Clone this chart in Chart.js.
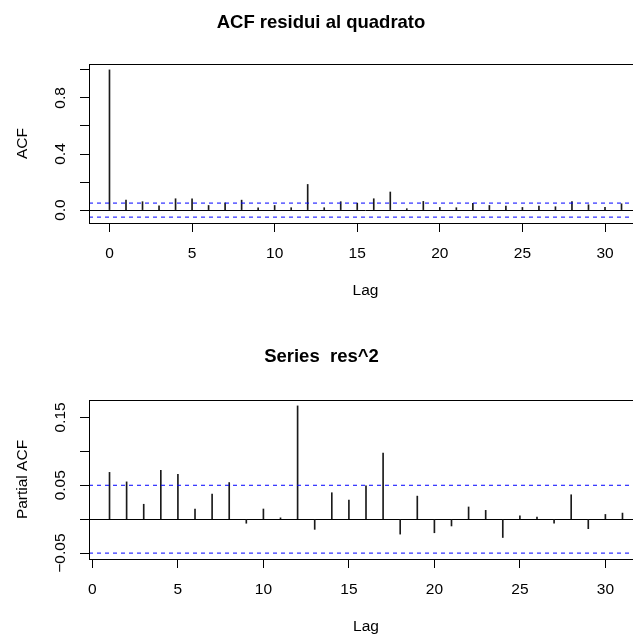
<!DOCTYPE html>
<html>
<head>
<meta charset="utf-8">
<script src="https://cdn.jsdelivr.net/npm/chart.js@4.4.1/dist/chart.umd.min.js"></script>
<style>
html, body { margin: 0; padding: 0; background: #fff; overflow: hidden; width: 633px; height: 639px; }
canvas { display: block; }
</style>
</head>
<body>
<canvas id="chart-acf" width="660" height="320" style="width:660px;height:320px"></canvas>
<canvas id="chart-pacf" width="660" height="319" style="width:660px;height:319px"></canvas>
<script>
// values
const acfLags = [0, 1, 2, 3, 4, 5, 6, 7, 8, 9, 10, 11, 12, 13, 14, 15,
    16, 17, 18, 19, 20, 21, 22, 23, 24, 25, 26, 27, 28, 29, 30, 31];
const acfValues = [1.0, 0.071, 0.06, 0.031, 0.081, 0.081, 0.033, 0.052, 0.071, 0.017, 0.033, 0.017,
    0.183, 0.017, 0.06, 0.05, 0.081, 0.129, 0.01, 0.062, 0.019, 0.017, 0.048, 0.033,
    0.029, 0.019, 0.029, 0.024, 0.06, 0.038, 0.019, 0.045];

const pacfLags = [1, 2, 3, 4, 5, 6, 7, 8, 9, 10, 11, 12, 13, 14, 15,
    16, 17, 18, 19, 20, 21, 22, 23, 24, 25, 26, 27, 28, 29, 30, 31];
const pacfValues = [0.069, 0.055, 0.022, 0.072, 0.066, 0.015, 0.037, 0.054, -0.006, 0.015, 0.002,
    0.167, -0.015, 0.039, 0.028, 0.049, 0.0975, -0.022, 0.034, -0.02, -0.01, 0.018,
    0.013, -0.027, 0.005, 0.003, -0.006, 0.036, -0.014, 0.007, 0.009];

const ciBound = 0.05;

const lagTicks = [0, 5, 10, 15, 20, 25, 30];
const acfYTicks = [0, 0.2, 0.4, 0.6, 0.8, 1.0];
const acfYLabelValues = [0, 0.4, 0.8];
const acfYLabelText = ['0.0', '0.4', '0.8'];
const pacfYTicks = [-0.05, 0, 0.05, 0.1, 0.15];
const pacfYLabelValues = [-0.05, 0.05, 0.15];
const pacfYLabelText = ['\u22120.05', '0.05', '0.15'];

const FAMILY = '"Liberation Sans", Arial, Helvetica, sans-serif';
const AXIS_SIZE = 15.5;

// R style frame: full box + rotated y tick labels
const rFrame = {
    id: 'rFrame',
    afterDraw(chart, args, opts) {
        const { ctx, chartArea: a, scales } = chart;
        ctx.save();
        ctx.strokeStyle = '#000';
        ctx.lineWidth = 1;
        ctx.strokeRect(Math.round(a.left) + 0.5, Math.round(a.top) + 0.5,
            Math.round(a.right - a.left), Math.round(a.bottom - a.top));
        ctx.fillStyle = '#000';
        ctx.font = AXIS_SIZE + 'px ' + FAMILY;
        ctx.textAlign = 'center';
        ctx.textBaseline = 'middle';
        opts.values.forEach((v, i) => {
            const y = scales.y.getPixelForValue(v);
            ctx.save();
            ctx.translate(opts.x, y);
            ctx.rotate(-Math.PI / 2);
            ctx.fillText(opts.labels[i], 0, 0);
            ctx.restore();
        });
        ctx.restore();
    },
};

function makePanel(id, p) {
    const ctx = document.getElementById(id).getContext('2d');
    return new Chart(ctx, {
        type: 'bar',
        data: {
            datasets: [
                {
                    type: 'bar',
                    data: p.lags.map((l, i) => ({ x: l, y: p.values[i] })),
                    backgroundColor: '#1a1a1a',
                    borderWidth: 0,
                    barThickness: 1,
                    order: 2,
                },
                {
                    type: 'line',
                    data: [{ x: p.xMin, y: ciBound }, { x: p.xMax, y: ciBound }],
                    borderColor: '#0000ff',
                    borderWidth: 1,
                    borderDash: [4, 4],
                    pointRadius: 0,
                    fill: false,
                    order: 1,
                },
                {
                    type: 'line',
                    data: [{ x: p.xMin, y: -ciBound }, { x: p.xMax, y: -ciBound }],
                    borderColor: '#0000ff',
                    borderWidth: 1,
                    borderDash: [4, 4],
                    pointRadius: 0,
                    fill: false,
                    order: 1,
                },
            ],
        },
        options: {
            responsive: false,
            animation: false,
            devicePixelRatio: 1,
            layout: { padding: { left: 0, right: p.padRight, top: 0, bottom: 0 } },
            plugins: {
                legend: { display: false },
                tooltip: { enabled: false },
                title: {
                    display: true,
                    text: p.title,
                    color: '#000',
                    font: { family: FAMILY, size: 18.5, weight: 'bold' },
                    padding: { top: p.titleTop, bottom: p.titleBottom },
                },
                rFrame: { values: p.yLabelValues, labels: p.yLabelText, x: 61 },
            },
            scales: {
                x: {
                    type: 'linear',
                    min: p.xMin,
                    max: p.xMax,
                    offset: false,
                    afterBuildTicks: (s) => { s.ticks = lagTicks.map((v) => ({ value: v })); },
                    afterFit: (s) => { s.height = p.xAxisHeight; },
                    border: { display: false },
                    grid: { offset: false, drawOnChartArea: false, drawTicks: true, tickLength: 9, color: '#000' },
                    ticks: {
                        color: '#000',
                        padding: 12,
                        maxRotation: 0,
                        autoSkip: false,
                        font: { family: FAMILY, size: AXIS_SIZE },
                    },
                    title: {
                        display: true,
                        text: 'Lag',
                        color: '#000',
                        font: { family: FAMILY, size: AXIS_SIZE },
                        padding: { top: 0, bottom: p.lagBottom },
                    },
                },
                y: {
                    type: 'linear',
                    min: p.yMin,
                    max: p.yMax,
                    afterBuildTicks: (s) => { s.ticks = p.yTicks.map((v) => ({ value: v })); },
                    afterFit: (s) => { s.width = 89; },
                    border: { display: false },
                    grid: {
                        drawTicks: true,
                        tickLength: 9,
                        tickColor: '#000',
                        color: (c) => (c.tick && c.tick.value === 0 ? '#000' : 'rgba(0,0,0,0)'),
                    },
                    ticks: { display: false },
                    title: {
                        display: true,
                        text: p.yTitle,
                        color: '#000',
                        font: { family: FAMILY, size: AXIS_SIZE },
                        padding: { top: 13.7, bottom: 0 },
                    },
                },
            },
        },
        plugins: [rFrame],
    });
}

makePanel('chart-acf', {
    title: 'ACF residui al quadrato',
    yTitle: 'ACF',
    lags: acfLags,
    values: acfValues,
    xMin: -1.24,
    xMax: 32.24,
    yMin: -0.092,
    yMax: 1.042,
    yTicks: acfYTicks,
    yLabelValues: acfYLabelValues,
    yLabelText: acfYLabelText,
    padRight: 18,
    titleTop: 12,
    titleBottom: 29.8,
    xAxisHeight: 97,
    lagBottom: 20,
});

makePanel('chart-pacf', {
    title: 'Series  res^2',
    yTitle: 'Partial ACF',
    lags: pacfLags,
    values: pacfValues,
    xMin: -0.2,
    xMax: 32.2,
    yMin: -0.0587,
    yMax: 0.1757,
    yTicks: pacfYTicks,
    yLabelValues: pacfYLabelValues,
    yLabelText: pacfYLabelText,
    padRight: 17,
    titleTop: 25.4,
    titleBottom: 32.4,
    xAxisHeight: 80,
    lagBottom: 3.2,
});
</script>
</body>
</html>
